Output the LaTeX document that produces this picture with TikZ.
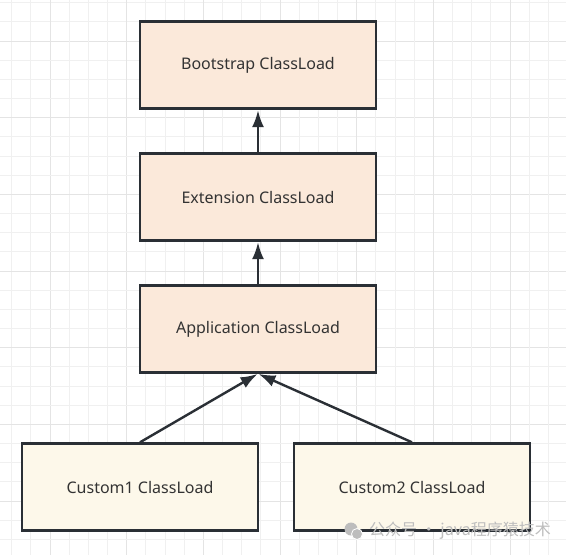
\documentclass[tikz,border=0pt]{standalone}
\usepackage{fontspec}
\setmainfont{Noto Sans}
\newfontfamily\cjkfont{Noto Sans CJK SC}
\usetikzlibrary{arrows.meta}
\definecolor{peach}{HTML}{FBE9DA}
\definecolor{cream}{HTML}{FDF8EA}
\definecolor{edge}{HTML}{2A2F35}
\definecolor{txt}{HTML}{333333}
\definecolor{gridminor}{HTML}{F0F0F0}
\definecolor{gridmajor}{HTML}{E4E4E4}
\definecolor{wm}{HTML}{BDBDBD}
\tikzset{
  loader/.style={draw=edge, line width=2.4pt, minimum width=236pt, minimum height=87pt, inner sep=0pt, text=txt, font=\fontsize{16}{19}\selectfont},
  toploader/.style={loader, fill=peach},
  customloader/.style={loader, fill=cream},
  link/.style={draw=edge, line width=2.4pt, -{Latex[length=17pt 0,width=12pt 0]}, shorten >=0.5pt}
}
\begin{document}
\begin{tikzpicture}[x=1pt,y=-1pt]
\useasboundingbox (0,0) rectangle (566,555);
\fill[white] (0,0) rectangle (566,555);
% grid
\foreach \k in {0,...,29}{
  \pgfmathsetmacro{\xx}{11.7+19.17*\k}
  \pgfmathsetmacro{\yy}{2.7+19.17*\k}
  \pgfmathtruncatemacro{\m}{mod(\k,4)}
  \ifnum\m=2
    \draw[gridmajor, line width=1pt] (\xx,0) -- (\xx,555);
    \draw[gridmajor, line width=1pt] (0,\yy) -- (566,\yy);
  \else
    \draw[gridminor, line width=1pt] (\xx,0) -- (\xx,555);
    \draw[gridminor, line width=1pt] (0,\yy) -- (566,\yy);
  \fi
}
\node[toploader] (boot) at (258,65) {\raisebox{-2pt}{Bootstrap ClassLoad}};
\node[toploader] (ext) at (258,197) {\raisebox{-2pt}{Extension ClassLoad}};
\node[toploader] (app) at (258,329) {\raisebox{-2pt}{Application ClassLoad}};
\node[customloader] (c1) at (140,487) {\raisebox{-2pt}{Custom1 ClassLoad}};
\node[customloader] (c2) at (412,487) {\raisebox{-2pt}{Custom2 ClassLoad}};
\draw[link] (ext.north) -- (boot.south);
\draw[link] (app.north) -- (ext.south);
\draw[link] (c1.north) -- (app.south);
\draw[link] (c2.north) -- (app.south);
% watermark
\node[fill=wm, circle, inner sep=0pt, minimum size=13pt] (wmicon) at (351,529) {};
\node[fill=wm, draw=white, line width=0.8pt, circle, inner sep=0pt, minimum size=11pt] (wmicon2) at (357,534) {};
\node[anchor=west, text=wm, inner sep=0pt, font=\cjkfont\fontsize{16}{18}\selectfont] (wmtext) at (369,531) {公众号 · java程序猿技术};
\end{tikzpicture}
\end{document}
